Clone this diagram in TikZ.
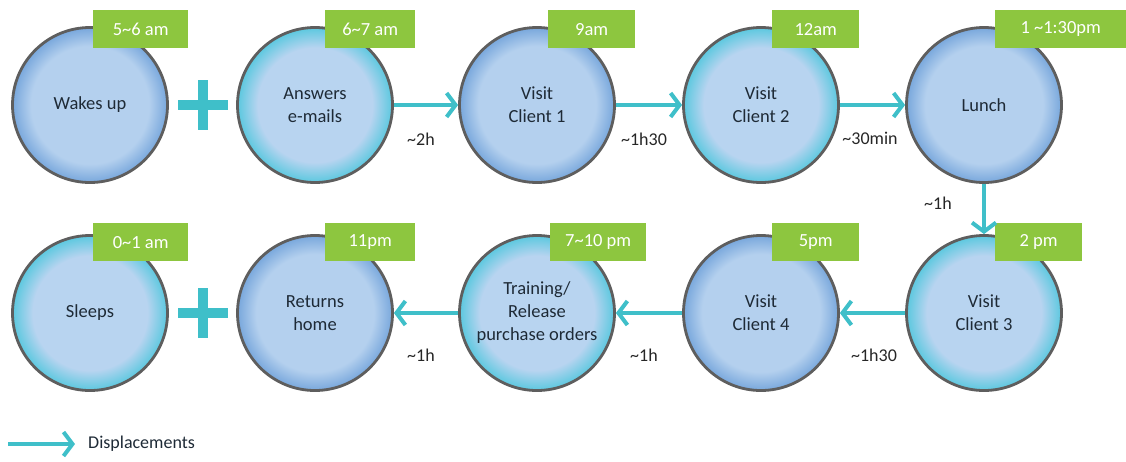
\documentclass[tikz,border=0pt]{standalone}
\usepackage{fontspec}
\setmainfont{Carlito}
\usetikzlibrary{arrows.meta}
\definecolor{ballblue}{HTML}{78A7DC}
\definecolor{ballbluein}{HTML}{B4D0EE}
\definecolor{ballteal}{HTML}{5BC8DF}
\definecolor{balltealin}{HTML}{B8D4F0}
\definecolor{rim}{HTML}{5E5E5E}
\definecolor{timegreen}{HTML}{8DC63F}
\definecolor{movecol}{HTML}{3FBFC9}
\definecolor{inktext}{HTML}{1E2A36}
\pgfdeclareradialshading{blueshade}{\pgfpoint{0bp}{0bp}}{%
  color(0bp)=(ballbluein); color(19bp)=(ballbluein); color(25bp)=(ballblue);
  color(50bp)=(ballblue)}
\pgfdeclareradialshading{tealshade}{\pgfpoint{0bp}{0bp}}{%
  color(0bp)=(balltealin); color(18.5bp)=(balltealin); color(25bp)=(ballteal);
  color(50bp)=(ballteal)}
\tikzset{
  ball/.style={circle, draw=rim, line width=2.8pt, minimum size=155pt,
    inner sep=0pt, align=center, text=inktext,
    font=\fontsize{18.5}{23}\selectfont},
  blueball/.style={ball, shading=blueshade},
  tealball/.style={ball, shading=tealshade},
  timebox/.style={fill=timegreen, text=white, anchor=north west,
    minimum height=38pt, minimum width=#1, inner sep=0pt,
    font=\fontsize{18.5}{22}\selectfont},
  timebox/.default=88pt,
  move/.style={draw=movecol, line width=4pt,
    -{Straight Barb[length=9pt,width=24pt]}},
  dur/.style={text=black!85, inner sep=0pt, font=\fontsize{18}{22}\selectfont},
  plusbar/.style={fill=movecol}
}

\begin{document}
\begin{tikzpicture}[x=1pt,y=-1pt]
\useasboundingbox (0,0) rectangle (1126,461);

% first row
\node[blueball] (wake) at (90,105) {Wakes up};
\node[tealball] (mails) at (315,105) {Answers\\e-mails};
\node[blueball] (client1) at (537,105) {Visit\\Client 1};
\node[tealball] (client2) at (761,105) {Visit\\Client 2};
\node[blueball] (lunch) at (984,105) {Lunch};

% second row
\node[tealball] (sleep) at (90,313) {Sleeps};
\node[blueball] (home) at (315,313) {Returns\\home};
\node[tealball] (training) at (537,313) {Training/\\Release\\purchase orders};
\node[blueball] (client4) at (761,313) {Visit\\Client 4};
\node[tealball] (client3) at (984,313) {Visit\\Client 3};

% times
\node[timebox=95pt] (t1) at (93,10) {5\textasciitilde6 am};
\node[timebox=90pt] (t2) at (325,10) {6\textasciitilde7 am};
\node[timebox=87pt] (t3) at (548,10) {9am};
\node[timebox=87pt] (t4) at (772,10) {12am};
\node[timebox=131pt] (t5) at (995,10) {1 \textasciitilde1:30pm};
\node[timebox=87pt] (t6) at (995,223) {2 pm};
\node[timebox=87pt] (t7) at (772,223) {5pm};
\node[timebox=96pt] (t8) at (550,223) {7\textasciitilde10 pm};
\node[timebox=90pt] (t9) at (325,223) {11pm};
\node[timebox=95pt] (t10) at (93,223) {0\textasciitilde1 am};

% plus signs
\fill[plusbar] (178,100) rectangle (228,110);
\fill[plusbar] (198,80) rectangle (208,130);
\fill[plusbar] (178,308) rectangle (228,318);
\fill[plusbar] (198,288) rectangle (208,338);

% displacements
\draw[move] (mails) -- (client1);
\draw[move] (client1) -- (client2);
\draw[move] (client2) -- (lunch);
\draw[move] (lunch) -- (client3);
\draw[move] (client3) -- (client4);
\draw[move] (client4) -- (training);
\draw[move] (training) -- (home);

\node[dur] (d1) at (421,139) {\textasciitilde2h};
\node[dur] (d2) at (644,139) {\textasciitilde1h30};
\node[dur] (d3) at (870,138) {\textasciitilde30min};
\node[dur] (d4) at (938,203) {\textasciitilde1h};
\node[dur] (d5) at (874,355) {\textasciitilde1h30};
\node[dur] (d6) at (644,355) {\textasciitilde1h};
\node[dur] (d7) at (421,355) {\textasciitilde1h};

% legend
\coordinate (legA) at (8,444);
\coordinate (legB) at (75,444);
\draw[move] (legA) -- (legB);
\node[dur, anchor=west, text=inktext] (legtext) at (88,444) {Displacements};
\end{tikzpicture}
\end{document}
